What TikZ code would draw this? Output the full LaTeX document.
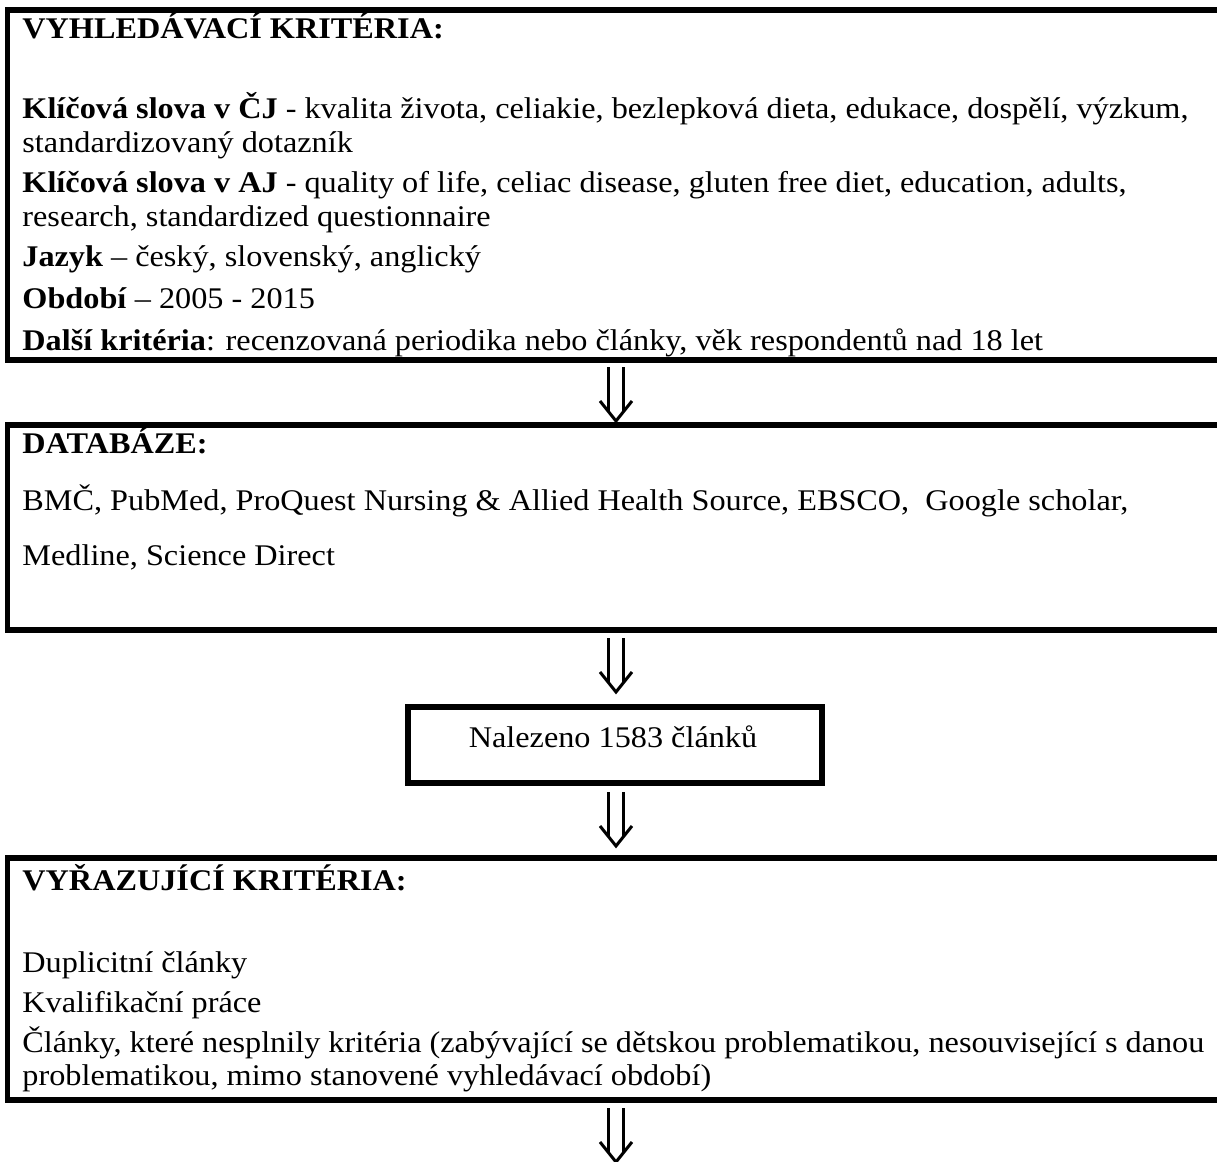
\documentclass[tikz,border=0pt]{standalone}
\usepackage{fontspec}
\setmainfont{Liberation Serif}
\usetikzlibrary{fit}
\begin{document}
\begin{tikzpicture}[x=0.5pt,y=-0.5pt,
  box/.style={draw, line width=2.8pt, inner sep=0pt},
  txt/.style={anchor=base west, inner sep=0pt, xscale=1.075, transform shape, font=\fontsize{15pt}{17pt}\selectfont},
  ctxt/.style={anchor=base, inner sep=0pt, xscale=1.075, transform shape, font=\fontsize{15pt}{17pt}\selectfont},
  dblarrow/.pic={
    \draw[line width=1.5pt] (-7.5,0) -- (-7.5,45) (7.5,0) -- (7.5,45);
    \draw[line width=1.5pt, line join=miter] (-16,34) -- (0,54) -- (16,34);
  }]
\useasboundingbox (0,0) rectangle (1217,1162);
\clip (0,0) rectangle (1217,1162);
% boxes
\coordinate (b1nw) at (7.5,10);   \coordinate (b1se) at (1240,360);
\coordinate (b2nw) at (7.5,425);  \coordinate (b2se) at (1240,630);
\coordinate (b3nw) at (408,707);  \coordinate (b3se) at (822,783);
\coordinate (b4nw) at (7.5,858);  \coordinate (b4se) at (1240,1100);
\node[box, fit=(b1nw)(b1se)] (b1) {};
\node[box, fit=(b2nw)(b2se)] (b2) {};
\node[box, fit=(b3nw)(b3se)] (b3) {};
\node[box, fit=(b4nw)(b4se)] (b4) {};
% box 1 text
\node[txt] (t10) at (22,38) {\textbf{VYHLEDÁVACÍ KRITÉRIA:}};
\node[txt] (t11) at (22,118) {\textbf{Klíčová slova v ČJ} - kvalita života, celiakie, bezlepková dieta, edukace, dospělí, výzkum,};
\node[txt] (t12) at (22,152) {standardizovaný dotazník};
\node[txt] (t13) at (22,192) {\textbf{Klíčová slova v AJ} - quality of life, celiac disease, gluten free diet, education, adults,};
\node[txt] (t14) at (22,226) {research, standardized questionnaire};
\node[txt] (t15) at (22,266) {\textbf{Jazyk} – český, slovenský, anglický};
\node[txt] (t16) at (22,308) {\textbf{Období} – 2005 - 2015};
\node[txt] (t17) at (22,350) {\textbf{Další kritéria}: recenzovaná periodika nebo články, věk respondentů nad 18 let};
% box 2 text
\node[txt] (t20) at (22,453) {\textbf{DATABÁZE:}};
\node[txt] (t21) at (22,510) {BMČ, PubMed, ProQuest Nursing \& Allied Health Source, EBSCO,\ \ Google scholar,};
\node[txt] (t22) at (22,565) {Medline, Science Direct};
% box 3 text
\node[ctxt] (t30) at (613,747) {Nalezeno 1583 článků};
% box 4 text
\node[txt] (t40) at (22,890) {\textbf{VYŘAZUJÍCÍ KRITÉRIA:}};
\node[txt] (t41) at (22,972) {Duplicitní články};
\node[txt] (t42) at (22,1012) {Kvalifikační práce};
\node[txt] (t43) at (22,1052) {Články, které nesplnily kritéria (zabývající se dětskou problematikou, nesouvisející s danou};
\node[txt] (t44) at (22,1085) {problematikou, mimo stanovené vyhledávací období)};
% arrows
\pic (a1) at (616,367) {dblarrow};
\pic (a2) at (616,638) {dblarrow};
\pic (a3) at (616,792) {dblarrow};
\pic (a4) at (616,1108) {dblarrow};
\end{tikzpicture}
\end{document}
